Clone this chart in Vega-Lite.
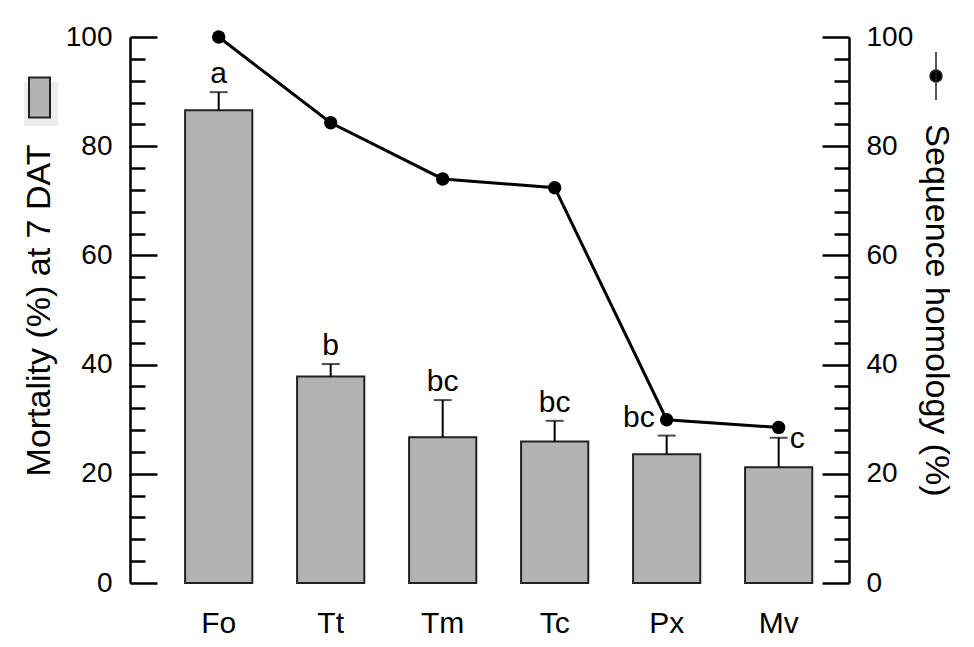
{
  "$schema": "https://vega.github.io/schema/vega-lite/v6.json",
  "width": 719,
  "height": 546,
  "autosize": {"type": "none"},
  "padding": {"left": 130, "top": 37, "right": 125, "bottom": 64},
  "background": "white",
  "config": {
    "view": {"stroke": null},
    "font": "Liberation Sans",
    "axis": {
      "labelFont": "Liberation Sans",
      "titleFont": "Liberation Sans",
      "labelColor": "black",
      "titleColor": "black",
      "domainColor": "black",
      "tickColor": "black",
      "labelFontSize": 28,
      "titleFontSize": 34,
      "titleFontWeight": "normal",
      "grid": false
    }
  },
  "data": {
    "values": [
      {"host": "Fo", "mortality": 86.6, "upper": 89.9, "homology": 100, "letter": "a"},
      {"host": "Tt", "mortality": 37.8, "upper": 40.1, "homology": 84.3, "letter": "b"},
      {"host": "Tm", "mortality": 26.7, "upper": 33.5, "homology": 74.0, "letter": "bc"},
      {"host": "Tc", "mortality": 25.9, "upper": 29.7, "homology": 72.4, "letter": "bc"},
      {"host": "Px", "mortality": 23.6, "upper": 27.0, "homology": 29.9, "letter": "bc"},
      {"host": "Mv", "mortality": 21.2, "upper": 26.6, "homology": 28.5, "letter": "c"}
    ]
  },
  "encoding": {
    "x": {
      "field": "host",
      "type": "nominal",
      "sort": null,
      "scale": {"paddingInner": 0.4, "paddingOuter": 0.41, "align": 0.6},
      "axis": {"title": null, "domain": false, "ticks": false, "labelAngle": 0, "labelPadding": 25, "labelFontSize": 30}
    }
  },
  "layer": [
    {
      "encoding": {
        "y": {
          "field": "mortality",
          "type": "quantitative",
          "scale": {"domain": [0, 100], "nice": false},
          "axis": {
            "orient": "left",
            "title": "Mortality (%) at 7 DAT",
            "titlePadding": 9,
            "values": [0, 4, 8, 12, 16, 20, 24, 28, 32, 36, 40, 44, 48, 52, 56, 60, 64, 68, 72, 76, 80, 84, 88, 92, 96, 100],
            "tickSize": {"condition": {"test": "datum.value % 20 === 0", "value": -27}, "value": -15},
            "labelExpr": "datum.value % 20 === 0 ? datum.label : ''",
            "labelPadding": 45,
            "domainWidth": 2.5,
            "tickWidth": 2.5
          }
        }
      },
      "layer": [
        {
          "mark": {"type": "bar", "stroke": "#222222", "strokeWidth": 2},
          "encoding": {
            "fill": {
              "datum": "Mortality (%) at 7 DAT",
              "scale": {"range": ["#b3b3b3"]},
              "legend": {
                "orient": "none",
                "legendX": -106,
                "legendY": 45,
                "title": null,
                "labelExpr": "''",
                "labelOffset": 0,
                "symbolType": "M-1,-1.9H1V1.9H-1Z",
                "symbolSize": 441,
                "symbolStrokeColor": "#222222",
                "symbolStrokeWidth": 2,
                "symbolOpacity": 1,
                "fillColor": "#eeeeee",
                "padding": 4
              }
            }
          }
        },
        {
          "mark": {"type": "rule", "color": "black", "strokeWidth": 2},
          "encoding": {"y2": {"field": "upper"}}
        },
        {
          "mark": {"type": "tick", "color": "black", "size": 18, "thickness": 2},
          "encoding": {"y": {"field": "upper", "type": "quantitative"}}
        },
        {
          "transform": [{"filter": "datum.host !== 'Mv' && datum.host !== 'Px'"}],
          "mark": {"type": "text", "fontSize": 30, "baseline": "alphabetic", "dy": -9, "color": "black", "font": "Liberation Sans"},
          "encoding": {
            "y": {"field": "upper", "type": "quantitative"},
            "text": {"field": "letter"}
          }
        },
        {
          "transform": [{"filter": "datum.host === 'Px'"}],
          "mark": {"type": "text", "fontSize": 30, "baseline": "alphabetic", "align": "right", "dx": -12, "dy": -9, "color": "black", "font": "Liberation Sans"},
          "encoding": {
            "y": {"field": "upper", "type": "quantitative"},
            "text": {"field": "letter"}
          }
        },
        {
          "transform": [{"filter": "datum.host === 'Mv'"}],
          "mark": {"type": "text", "fontSize": 30, "baseline": "alphabetic", "align": "left", "dx": 11, "dy": 10, "color": "black", "font": "Liberation Sans"},
          "encoding": {
            "y": {"field": "upper", "type": "quantitative"},
            "text": {"field": "letter"}
          }
        }
      ]
    },
    {
      "encoding": {
        "y": {
          "field": "homology",
          "type": "quantitative",
          "scale": {"domain": [0, 100], "nice": false},
          "axis": {
            "orient": "right",
            "title": "Sequence homology (%)",
            "titlePadding": 6,
            "values": [0, 4, 8, 12, 16, 20, 24, 28, 32, 36, 40, 44, 48, 52, 56, 60, 64, 68, 72, 76, 80, 84, 88, 92, 96, 100],
            "tickSize": {"condition": {"test": "datum.value % 20 === 0", "value": -27}, "value": -15},
            "labelExpr": "datum.value % 20 === 0 ? datum.label : ''",
            "labelPadding": 44,
            "domainWidth": 2.5,
            "tickWidth": 2.5
          }
        }
      },
      "layer": [
        {
          "mark": {"type": "line", "strokeWidth": 3, "color": "black"},
          "encoding": {}
        },
        {
          "mark": {"type": "point", "filled": true, "size": 180, "opacity": 1, "strokeWidth": 0},
          "encoding": {
            "fill": {
              "datum": "Sequence homology (%)",
              "scale": {"range": ["black"]},
              "legend": {
                "orient": "none",
                "legendX": 781,
                "legendY": 14,
                "title": null,
                "labelExpr": "''",
                "labelOffset": 0,
                "symbolType": "M0,-1L0,1M0.25,0A0.25,0.25,0,1,1,-0.25,0A0.25,0.25,0,1,1,0.25,0Z",
                "symbolSize": 2304,
                "symbolFillColor": "black",
                "symbolStrokeColor": "#222222",
                "symbolStrokeWidth": 1.5,
                "symbolOpacity": 1,
                "padding": 0
              }
            }
          }
        }
      ]
    }
  ],
  "resolve": {"scale": {"y": "independent", "fill": "independent"}}
}
